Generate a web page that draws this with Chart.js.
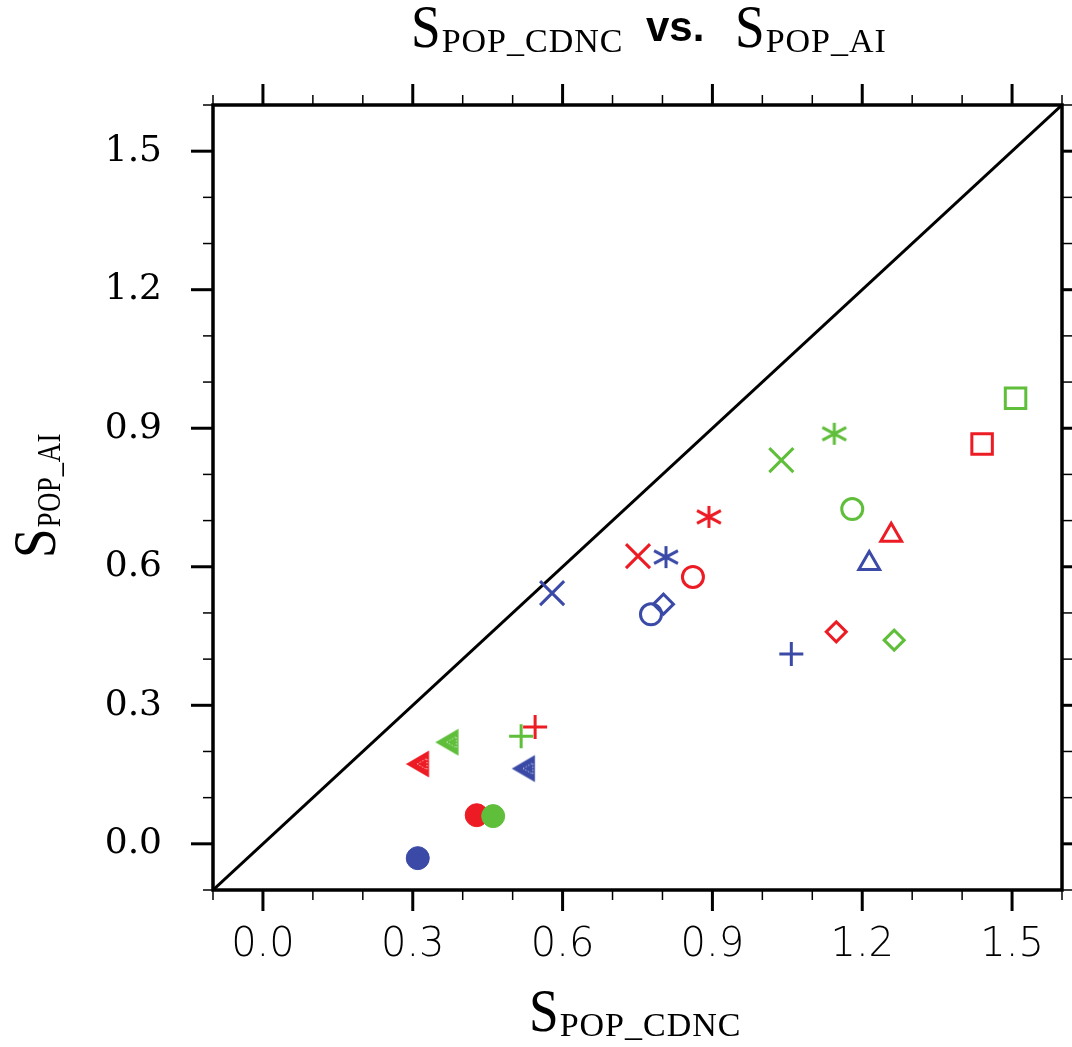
<!DOCTYPE html>
<html>
<head>
<meta charset="utf-8">
<script src="https://cdn.jsdelivr.net/npm/chart.js@4"></script>
<style>
  html, body { margin: 0; padding: 0; background: #fff; overflow: hidden; }
  #wrap { width: 1072px; height: 1047px; position: relative; }
</style>
</head>
<body>
<div id="wrap"><canvas id="chart"></canvas></div>
<script>
// S_POP_CDNC (x) vs S_POP_AI (y); one marker per case, three colour groups

const redMarkers = ['filledCircle', 'leftTri', 'plus', 'x', 'asterisk', 'openCircle', 'diamond', 'triangle', 'square'];
const redX = [0.428, 0.317, 0.545, 0.751, 0.893, 0.861, 1.148, 1.258, 1.440];
const redY = [0.062, 0.173, 0.253, 0.623, 0.708, 0.578, 0.459, 0.668, 0.866];

const greenMarkers = ['filledCircle', 'leftTri', 'plus', 'x', 'asterisk', 'openCircle', 'diamond', 'square'];
const greenX = [0.461, 0.376, 0.517, 1.038, 1.144, 1.180, 1.264, 1.507];
const greenY = [0.060, 0.220, 0.233, 0.831, 0.888, 0.725, 0.441, 0.965];

const blueMarkers = ['filledCircle', 'leftTri', 'plus', 'x', 'asterisk', 'openCircle', 'diamond', 'triangle'];
const blueX = [0.310, 0.529, 1.058, 0.579, 0.807, 0.777, 0.802, 1.214];
const blueY = [-0.031, 0.163, 0.411, 0.543, 0.621, 0.497, 0.519, 0.607];

const axisMin = -0.1;
const axisMax = 1.6;
const majorTicks = [0.0, 0.3, 0.6, 0.9, 1.2, 1.5];
const minorTicks = [-0.1, 0.0, 0.1, 0.2, 0.3, 0.4, 0.5, 0.6, 0.7, 0.8, 0.9, 1.0, 1.1, 1.2, 1.3, 1.4, 1.5, 1.6];
const tickLabels = ['0.0', '0.3', '0.6', '0.9', '1.2', '1.5'];

const RED = '#ED1C24';
const GREEN = '#5FBE3A';
const BLUE = '#3A4AA6';

// custom markers that chart.js has no built-in style for
function asteriskImg(color) {
    const c = document.createElement('canvas');
    c.width = c.height = 34;
    const g = c.getContext('2d');
    g.translate(17, 17);
    g.strokeStyle = color;
    g.lineWidth = 3;
    const a = 28 * Math.PI / 180, L = 13.5;
    g.beginPath();
    g.moveTo(0, -11); g.lineTo(0, 11);
    g.moveTo(-L * Math.cos(a), -L * Math.sin(a)); g.lineTo(L * Math.cos(a), L * Math.sin(a));
    g.moveTo(-L * Math.cos(a), L * Math.sin(a)); g.lineTo(L * Math.cos(a), -L * Math.sin(a));
    g.stroke();
    return c;
}

function leftTriImg(color) {
    const c = document.createElement('canvas');
    c.width = c.height = 36;
    const g = c.getContext('2d');
    g.translate(18, 18);
    const tri = (s, dx) => {
        g.beginPath();
        g.moveTo(-s + dx, 0);
        g.lineTo(s / 2 + dx, -s * 0.866);
        g.lineTo(s / 2 + dx, s * 0.866);
        g.closePath();
    };
    tri(13.5, 0);
    g.fillStyle = color;
    g.fill();
    g.lineWidth = 2;
    g.strokeStyle = color;
    g.stroke();
    // faint hatch lines seen inside the filled triangles
    g.setLineDash([1.2, 1.8]);
    g.strokeStyle = 'rgba(255,255,255,0.8)';
    g.lineWidth = 1;
    tri(6.5, 2.5);
    g.stroke();
    return c;
}

function markerStyle(kind, color) {
    switch (kind) {
        case 'filledCircle': return { style: 'circle', r: 11.5, bw: 1, bg: color };
        case 'openCircle':   return { style: 'circle', r: 10.5, bw: 3, bg: 'rgba(0,0,0,0)' };
        case 'plus':         return { style: 'cross', r: 12, bw: 3, bg: 'rgba(0,0,0,0)' };
        case 'x':            return { style: 'crossRot', r: 17, bw: 3, bg: 'rgba(0,0,0,0)' };
        case 'diamond':      return { style: 'rectRot', r: 10, bw: 3, bg: 'rgba(0,0,0,0)' };
        case 'triangle':     return { style: 'triangle', r: 12, bw: 3, bg: 'rgba(0,0,0,0)' };
        case 'square':       return { style: 'rect', r: 14.5, bw: 3, bg: 'rgba(0,0,0,0)' };
        case 'asterisk':     return { style: asteriskImg(color), r: 12, bw: 0, bg: color };
        case 'leftTri':      return { style: leftTriImg(color), r: 12, bw: 0, bg: color };
    }
}

function makeDataset(label, xs, ys, kinds, color) {
    const st = kinds.map(k => markerStyle(k, color));
    return {
        label: label,
        data: xs.map((x, i) => ({ x: x, y: ys[i] })),
        showLine: false,
        borderColor: color,
        backgroundColor: color,
        pointStyle: st.map(s => s.style),
        pointRadius: st.map(s => s.r),
        pointBorderWidth: st.map(s => s.bw),
        pointBackgroundColor: st.map(s => s.bg),
        pointBorderColor: color,
        order: 1
    };
}

const serif = '"Liberation Serif", "Times New Roman", serif';

// "S" with a subscript, drawn left to right from (x, y)
function drawSubLabel(ctx, x, y, main, sub, sMain, sSub) {
    ctx.save();
    ctx.translate(x, y);
    ctx.font = '62px ' + serif;
    const w = ctx.measureText(main).width * sMain;
    ctx.save();
    ctx.scale(sMain, 1);
    ctx.fillText(main, 0, 0);
    ctx.restore();
    ctx.translate(w + 1, 5);
    ctx.scale(sSub, 1);
    ctx.font = '34px ' + serif;
    ctx.letterSpacing = '1px';
    ctx.fillText(sub, 0, 0);
    ctx.restore();
}

const framePlugin = {
    id: 'frameTicks',
    afterDatasetsDraw(chart) {
        const { ctx, chartArea: a } = chart;
        const xs = chart.scales.x, ys = chart.scales.y;
        ctx.save();
        ctx.strokeStyle = '#000';
        const seg = (x1, y1, x2, y2) => { ctx.beginPath(); ctx.moveTo(x1, y1); ctx.lineTo(x2, y2); ctx.stroke(); };
        ctx.lineWidth = 1.5;
        minorTicks.forEach(v => {
            const px = xs.getPixelForValue(v), py = ys.getPixelForValue(v);
            seg(px, a.bottom, px, a.bottom + 10);
            seg(px, a.top, px, a.top - 10);
            seg(a.left, py, a.left - 10, py);
            seg(a.right, py, a.right + 10, py);
        });
        ctx.lineWidth = 3;
        majorTicks.forEach(v => {
            const px = xs.getPixelForValue(v), py = ys.getPixelForValue(v);
            seg(px, a.bottom, px, a.bottom + 21);
            seg(px, a.top, px, a.top - 21);
            seg(a.left, py, a.left - 22, py);
            seg(a.right, py, a.right + 22, py);
        });
        ctx.lineWidth = 3.5;
        ctx.strokeRect(a.left, a.top, a.right - a.left, a.bottom - a.top);
        ctx.restore();
    },
    afterDraw(chart) {
        const ctx = chart.ctx;
        ctx.save();
        ctx.fillStyle = '#000';
        ctx.textBaseline = 'alphabetic';
        ctx.textAlign = 'left';
        // title
        drawSubLabel(ctx, 411, 47, 'S', 'POP_CDNC', 0.86, 1);
        ctx.font = 'bold 42px "Liberation Sans", Arial, sans-serif';
        ctx.fillText('vs.', 646, 41);
        drawSubLabel(ctx, 735, 47, 'S', 'POP_AI', 0.86, 1);
        // x axis title
        drawSubLabel(ctx, 529, 1031, 'S', 'POP_CDNC', 0.86, 1);
        // y axis title (rotated)
        ctx.translate(55, 558);
        ctx.rotate(-Math.PI / 2);
        drawSubLabel(ctx, 0, 0, 'S', 'POP_AI', 0.86, 0.78);
        ctx.restore();
    }
};

const diagonal = {
    label: '1:1',
    data: [{ x: axisMin, y: axisMin }, { x: axisMax, y: axisMax }],
    showLine: true,
    borderColor: '#000',
    borderWidth: 3,
    pointRadius: 0,
    order: 10
};

new Chart(document.getElementById('chart'), {
    type: 'scatter',
    data: {
        datasets: [
            makeDataset('green', greenX, greenY, greenMarkers, GREEN),
            makeDataset('red', redX, redY, redMarkers, RED),
            makeDataset('blue', blueX, blueY, blueMarkers, BLUE),
            diagonal
        ]
    },
    options: {
        responsive: true,
        maintainAspectRatio: false,
        animation: false,
        events: [],
        layout: { autoPadding: false, padding: { top: 105, right: 10, left: 0, bottom: 0 } },
        plugins: {
            legend: { display: false },
            title: { display: false },
            tooltip: { enabled: false }
        },
        scales: {
            x: {
                type: 'linear',
                min: axisMin,
                max: axisMax,
                grid: { display: false, drawTicks: false },
                border: { display: false },
                afterBuildTicks: s => { s.ticks = majorTicks.map(v => ({ value: v })); },
                afterFit: s => { s.height = 157; s.paddingLeft = 0; s.paddingRight = 0; },
                ticks: {
                    autoSkip: false,
                    maxRotation: 0,
                    padding: 0,
                    color: '#000',
                    // tall line box puts the label centre ~56px below the frame
                    font: { family: '"DejaVu Sans", sans-serif', size: 40, weight: '200', lineHeight: '112px' },
                    callback: (v, i) => tickLabels[i]
                }
            },
            y: {
                type: 'linear',
                min: axisMin,
                max: axisMax,
                grid: { display: false, drawTicks: false },
                border: { display: false },
                afterBuildTicks: s => { s.ticks = majorTicks.map(v => ({ value: v })); },
                afterFit: s => { s.width = 213; s.paddingTop = 0; s.paddingBottom = 0; },
                ticks: {
                    autoSkip: false,
                    padding: 51,
                    color: '#000',
                    font: { family: '"DejaVu Serif", serif', size: 36 },
                    callback: (v, i) => tickLabels[i]
                }
            }
        }
    },
    plugins: [framePlugin]
});
</script>
</body>
</html>
